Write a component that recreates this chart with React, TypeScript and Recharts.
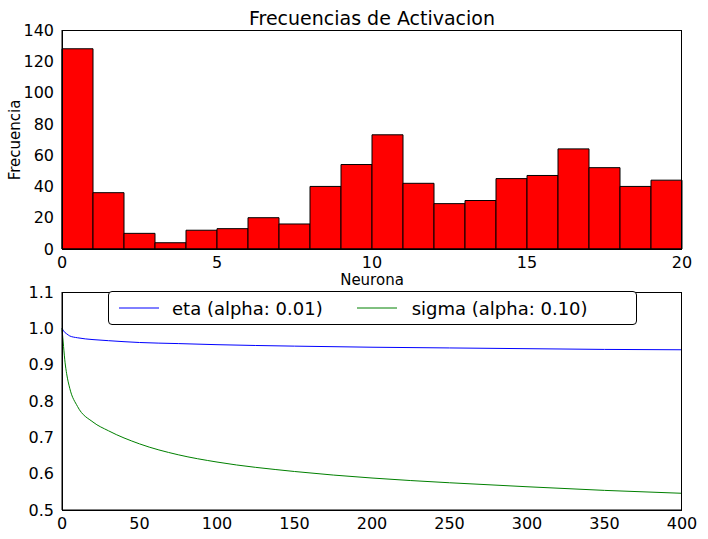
import React from "react";
import { BarChart, Bar, LineChart, Line, XAxis, YAxis } from "recharts";

const neuronCenters = [0.5,1.5,2.5,3.5,4.5,5.5,6.5,7.5,8.5,9.5,10.5,11.5,12.5,13.5,14.5,15.5,16.5,17.5,18.5,19.5];
const frequencies = [128,36,10,4,12,13,20,16,40,54,73,42,29,31,45,47,64,52,40,44];
const topXTicks = [0,5,10,15,20];
const topYTicks = [0,20,40,60,80,100,120,140];

const iterations = [0,1,2,3,5,10,20,30,50,75,100,150,200,250,300,350,400];
const etaValues = [1.0,0.993,0.988,0.985,0.979,0.974,0.969,0.966,0.961,0.958,0.955,0.951,0.948,0.946,0.944,0.942,0.941];
const sigmaValues = [1.0,0.95,0.905,0.875,0.835,0.785,0.742,0.718,0.682,0.652,0.632,0.606,0.588,0.575,0.564,0.554,0.546];
const bottomXTicks = [0,50,100,150,200,250,300,350,400];
const bottomYTicks = [0.5,0.6,0.7,0.8,0.9,1.0,1.1];

const histData = neuronCenters.map((x, i) => ({ x, f: frequencies[i] }));
const lineData = iterations.map((t, i) => ({ t, eta: etaValues[i], sigma: sigmaValues[i] }));

const font = "DejaVu Sans";
const tickStyle = { fill: "#000", fontSize: 16, fontFamily: font };

const Frame = ({ top, height }: { top: number; height: number }) => (
  <div style={{ position: "absolute", left: 62, top, width: 620, height, border: "1px solid #000", boxSizing: "border-box", pointerEvents: "none" }} />
);

export default function App() {
  return (
    <div style={{ position: "absolute", left: 0, top: 0, width: 708, height: 539, background: "#fff" }}>
      <div style={{ position: "absolute", top: 7, left: 62, width: 620, textAlign: "center", fontFamily: font, fontSize: 19 }}>Frecuencias de Activacion</div>
      <div style={{ position: "absolute", left: 15, top: 140, transform: "translate(-50%,-50%) rotate(-90deg)", fontFamily: font, fontSize: 15, whiteSpace: "nowrap" }}>Frecuencia</div>
      <div style={{ position: "absolute", top: 271, left: 62, width: 620, textAlign: "center", fontFamily: font, fontSize: 15 }}>Neurona</div>
      <div style={{ position: "absolute", top: 0, left: 0 }}>
        <BarChart width={708} height={275} data={histData} margin={{ top: 30, right: 26, left: 0, bottom: 0 }} barCategoryGap={0} barGap={0}>
          <XAxis dataKey="x" type="number" domain={[0, 20]} ticks={topXTicks} tick={tickStyle} tickLine={false} stroke="#000" height={26} />
          <YAxis domain={[0, 140]} ticks={topYTicks} tick={tickStyle} tickLine={false} stroke="#000" width={62} />
          <Bar dataKey="f" fill="#ff0000" stroke="#000" strokeWidth={1} isAnimationActive={false} />
        </BarChart>
      </div>
      <Frame top={30} height={220} />
      <div style={{ position: "absolute", top: 282, left: 0 }}>
        <LineChart width={708} height={257} data={lineData} margin={{ top: 10, right: 26, left: 0, bottom: 0 }}>
          <XAxis dataKey="t" type="number" domain={[0, 400]} ticks={bottomXTicks} tick={tickStyle} tickLine={false} stroke="#000" height={29} />
          <YAxis domain={[0.5, 1.1]} ticks={bottomYTicks} tickFormatter={(v) => v.toFixed(1)} tick={tickStyle} tickLine={false} stroke="#000" width={62} />
          <Line dataKey="eta" type="monotone" stroke="#0000ff" dot={false} strokeWidth={1} isAnimationActive={false} />
          <Line dataKey="sigma" type="monotone" stroke="#008000" dot={false} strokeWidth={1} isAnimationActive={false} />
        </LineChart>
      </div>
      <Frame top={292} height={219} />
      <div style={{ position: "absolute", top: 291, left: 108, border: "1px solid #000", borderRadius: 4, background: "#fff", width: 527, height: 32, display: "flex", alignItems: "center", fontFamily: font, fontSize: 18 }}>
        <svg width={45} height={10} style={{ marginLeft: 10 }}><line x1={0} y1={5} x2={40} y2={5} stroke="#0000ff" /></svg>
        <span style={{ marginLeft: 8 }}>eta (alpha: 0.01)</span>
        <svg width={45} height={10} style={{ marginLeft: 34 }}><line x1={0} y1={5} x2={40} y2={5} stroke="#008000" /></svg>
        <span style={{ marginLeft: 10 }}>sigma (alpha: 0.10)</span>
      </div>
    </div>
  );
}
